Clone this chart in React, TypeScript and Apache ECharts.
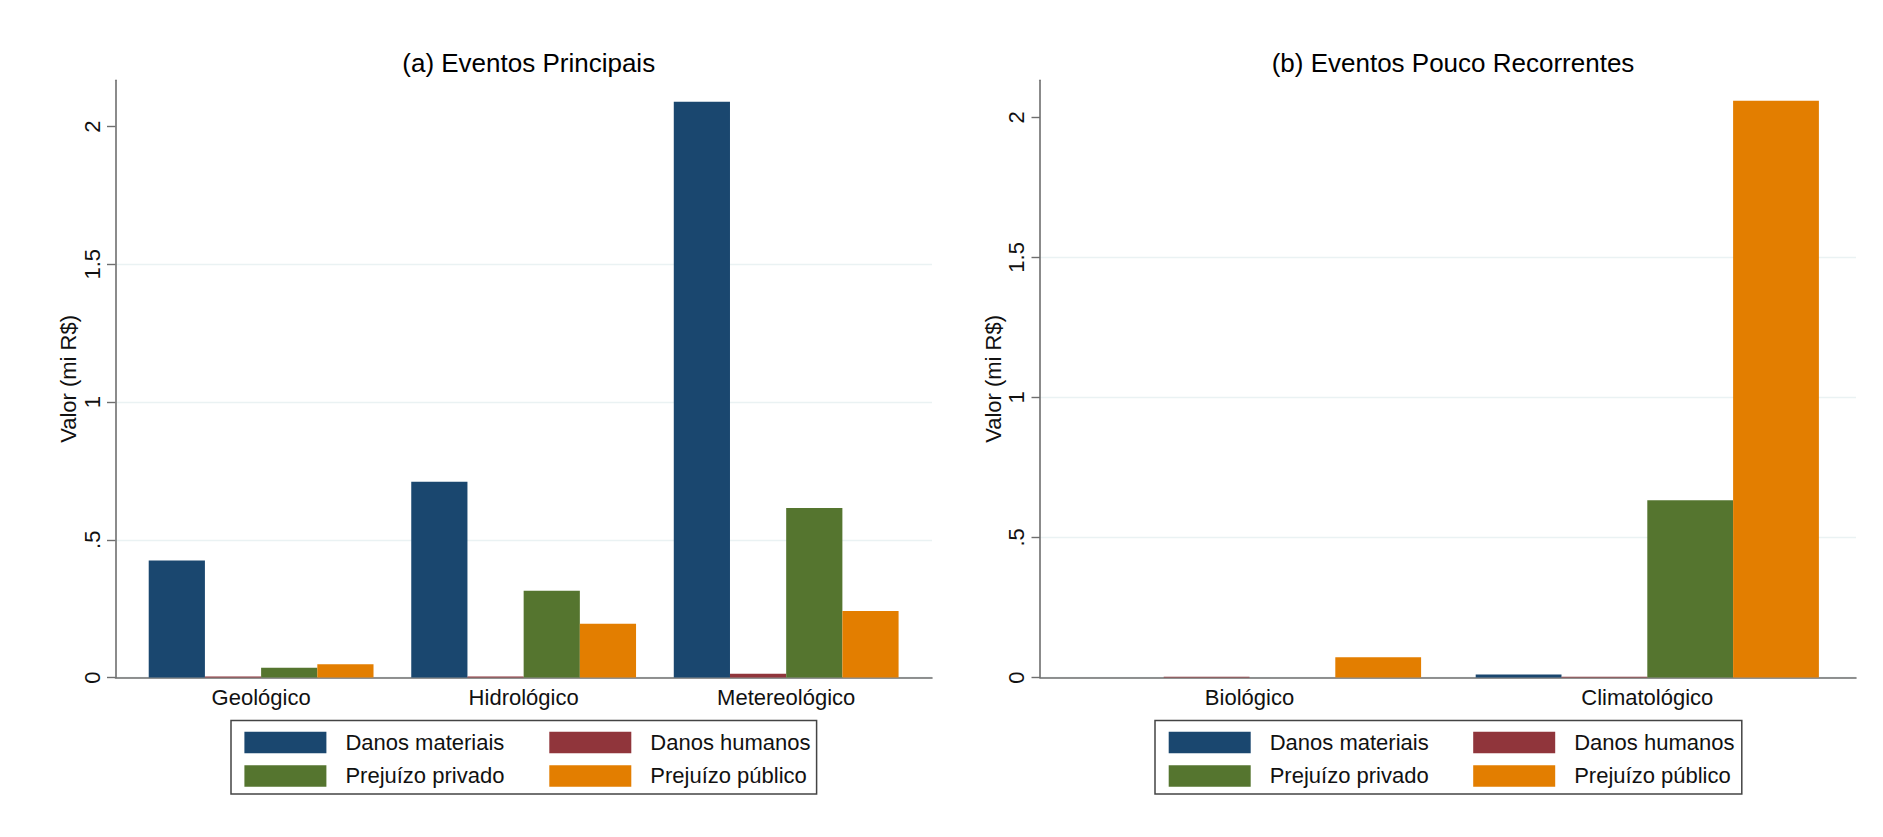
import React, { useEffect, useRef } from "react";
import * as echarts from "echarts";

const leftCats = ["Geológico", "Hidrológico", "Metereológico"];
const rightCats = ["Biológico", "Climatológico"];
const seriesNames = ["Danos materiais", "Danos humanos", "Prejuízo privado", "Prejuízo público"];
const seriesColors = ["#1a476f", "#90353b", "#55752f", "#e37e00"];

const leftDanosMateriais = [0.425, 0.711, 2.09];
const leftDanosHumanos = [0.004, 0.004, 0.014];
const leftPrejuizoPrivado = [0.035, 0.315, 0.615];
const leftPrejuizoPublico = [0.048, 0.195, 0.241];

const rightDanosMateriais = [0, 0.011];
const rightDanosHumanos = [0.003, 0.003];
const rightPrejuizoPrivado = [0, 0.633];
const rightPrejuizoPublico = [0.072, 2.059];

const yTicks = [0, 0.5, 1, 1.5, 2];
const titles = ["(a) Eventos Principais", "(b) Eventos Pouco Recorrentes"];
const yTitle = "Valor (mi R$)";

const FONT = "'Liberation Sans', Arial, sans-serif";
const W = 1883;
const H = 837;

export default function App() {
  const ref = useRef<HTMLDivElement>(null);
  useEffect(() => {
    document.body.style.margin = "0";
    const chart = echarts.init(ref.current!, undefined, { renderer: "svg" });
    const top = 80.3;
    const bottom = H - 677.5;
    const fmt = (v: number) => (v === 0.5 ? ".5" : String(v));

    const outerY = (max: number, name: string) => ({
      type: "value",
      min: 0,
      max,
      interval: 0.5,
      name,
      nameLocation: "middle",
      nameGap: 36,
      nameTextStyle: { fontFamily: FONT, fontSize: 22, color: "#111" },
      axisLine: { show: true, lineStyle: { color: "#6e6e6e", width: 1.6 } },
      axisTick: { show: true, length: 8.5, customValues: yTicks, lineStyle: { color: "#6e6e6e", width: 1.4 } },
      axisLabel: {
        show: true,
        rotate: 90,
        margin: 12.5,
        customValues: yTicks,
        formatter: fmt,
        fontFamily: FONT,
        fontSize: 22,
        color: "#111",
      },
      splitLine: { show: true, showMaxLine: false, lineStyle: { color: "#eaf2f3", width: 1.4 } },
    });
    const innerY = (max: number) => ({
      type: "value",
      min: 0,
      max,
      show: false,
      splitLine: { show: false },
    });
    const outerX = (data: string[]) => ({
      type: "category",
      data,
      axisLine: { show: true, lineStyle: { color: "#6e6e6e", width: 1.6 } },
      axisTick: { show: false },
      axisLabel: { show: false },
      splitLine: { show: false },
    });
    const innerX = (data: string[]) => ({
      type: "category",
      data,
      axisLine: { show: false },
      axisTick: { show: false },
      axisLabel: { show: true, margin: 9, fontFamily: FONT, fontSize: 22, color: "#111" },
      splitLine: { show: false },
    });

    const leftData = [leftDanosMateriais, leftDanosHumanos, leftPrejuizoPrivado, leftPrejuizoPublico];
    const rightData = [rightDanosMateriais, rightDanosHumanos, rightPrejuizoPrivado, rightPrejuizoPublico];

    const series: any[] = [];
    leftData.forEach((d, i) =>
      series.push({
        type: "bar",
        name: seriesNames[i],
        xAxisIndex: 1,
        yAxisIndex: 1,
        data: d,
        barWidth: 56.2,
        barGap: "0%",
        itemStyle: { color: seriesColors[i] },
      })
    );
    rightData.forEach((d, i) =>
      series.push({
        type: "bar",
        name: seriesNames[i],
        xAxisIndex: 3,
        yAxisIndex: 3,
        data: d,
        barWidth: 85.8,
        barGap: "0%",
        itemStyle: { color: seriesColors[i] },
      })
    );

    const legendCol = (left: number, names: string[]) => ({
      orient: "vertical",
      left,
      top: 725.5,
      itemWidth: 82,
      itemHeight: 21.5,
      itemGap: 9.4,
      icon: "rect",
      selectedMode: false,
      data: names,
      textStyle: { fontFamily: FONT, fontSize: 22, color: "#111", lineHeight: 24, padding: [0, 0, 0, 14] },
    });

    chart.setOption({
      animation: false,
      backgroundColor: "#ffffff",
      title: [
        { text: titles[0], left: 523.7, top: 45, textAlign: "center", textStyle: { fontFamily: FONT, fontSize: 26, fontWeight: "normal", color: "#000" } },
        { text: titles[1], left: 1448, top: 45, textAlign: "center", textStyle: { fontFamily: FONT, fontSize: 26, fontWeight: "normal", color: "#000" } },
      ],
      grid: [
        { left: 115.5, right: W - 932, top, bottom },
        { left: 129.85, right: W - 917.45, top, bottom },
        { left: 1040, right: W - 1856, top, bottom },
        { left: 1050.6, right: W - 1846.2, top, bottom },
      ],
      xAxis: [
        { gridIndex: 0, ...outerX(leftCats) },
        { gridIndex: 1, ...innerX(leftCats) },
        { gridIndex: 2, ...outerX(rightCats) },
        { gridIndex: 3, ...innerX(rightCats) },
      ],
      yAxis: [
        { gridIndex: 0, ...outerY(2.168, yTitle) },
        { gridIndex: 1, ...innerY(2.168) },
        { gridIndex: 2, ...outerY(2.132, yTitle) },
        { gridIndex: 3, ...innerY(2.132) },
      ],
      legend: [
        legendCol(239.4, [seriesNames[0], seriesNames[2]]),
        legendCol(544.3, [seriesNames[1], seriesNames[3]]),
        legendCol(1163.7, [seriesNames[0], seriesNames[2]]),
        legendCol(1468.2, [seriesNames[1], seriesNames[3]]),
      ],
      graphic: [
        { type: "rect", shape: { x: 231, y: 720.5, width: 585.6, height: 73.5 }, style: { fill: "none", stroke: "#444", lineWidth: 1.5 }, silent: true },
        { type: "rect", shape: { x: 1155, y: 720.5, width: 586.8, height: 73.5 }, style: { fill: "none", stroke: "#444", lineWidth: 1.5 }, silent: true },
      ],
      series,
    });
    return () => chart.dispose();
  }, []);
  return <div ref={ref} style={{ position: "absolute", left: 0, top: 0, width: W + "px", height: H + "px" }} />;
}
